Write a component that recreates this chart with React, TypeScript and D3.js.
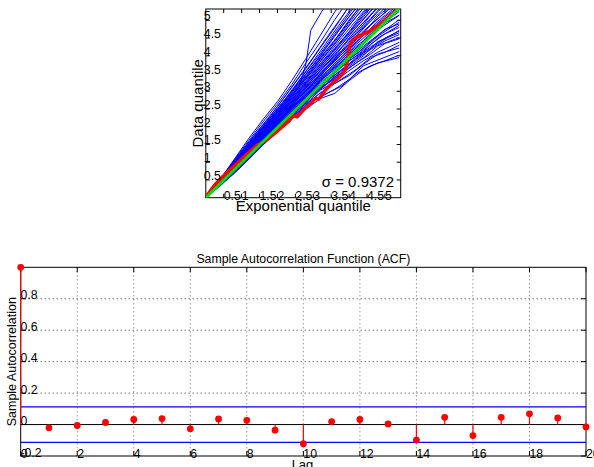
import React from 'react';
import * as d3 from 'd3';

// ---------- QQ plot data ----------
const qqKnots = [0, 0.4, 0.8, 1.2, 1.6, 2.0, 2.4, 2.8, 3.2, 3.6, 4.0, 4.4, 4.8, 5.4];
const blueLines: number[][] = [
  [0.01, 0.33, 0.70, 1.08, 1.49, 1.86, 2.22, 2.50, 2.80, 2.94, 3.30, 3.60, 3.80, 3.95],
  [0.02, 0.35, 0.69, 1.10, 1.50, 1.88, 2.26, 2.60, 2.84, 3.06, 3.33, 3.72, 3.88, 4.12],
  [0.02, 0.36, 0.73, 1.12, 1.53, 1.92, 2.29, 2.62, 2.96, 3.22, 3.44, 3.76, 4.05, 4.22],
  [0.01, 0.37, 0.74, 1.13, 1.55, 1.91, 2.31, 2.67, 3.03, 3.28, 3.58, 3.86, 4.10, 4.38],
  [0.03, 0.38, 0.76, 1.17, 1.57, 1.95, 2.34, 2.73, 3.06, 3.40, 3.66, 3.94, 4.28, 4.52],
  [0.02, 0.38, 0.77, 1.18, 1.59, 1.99, 2.39, 2.74, 3.13, 3.46, 3.76, 4.08, 4.34, 4.72],
  [0.02, 0.39, 0.79, 1.20, 1.61, 2.01, 2.41, 2.81, 3.16, 3.52, 3.86, 4.12, 4.50, 4.86],
  [0.03, 0.40, 0.80, 1.21, 1.64, 2.04, 2.44, 2.83, 3.24, 3.57, 3.93, 4.27, 4.58, 5.02],
  [0.02, 0.41, 0.81, 1.24, 1.66, 2.09, 2.47, 2.89, 3.27, 3.66, 3.98, 4.36, 4.74, 5.14],
  [0.03, 0.42, 0.83, 1.25, 1.69, 2.11, 2.53, 2.91, 3.33, 3.70, 4.10, 4.43, 4.86, 5.32],
  [0.02, 0.42, 0.85, 1.28, 1.71, 2.14, 2.55, 2.97, 3.37, 3.79, 4.16, 4.57, 4.98, 5.46],
  [0.03, 0.43, 0.86, 1.29, 1.74, 2.17, 2.61, 3.01, 3.46, 3.84, 4.26, 4.63, 5.12, 5.60],
  [0.02, 0.44, 0.87, 1.31, 1.77, 2.21, 2.64, 3.09, 3.49, 3.93, 4.33, 4.80, 5.24, 5.82],
  [0.03, 0.44, 0.89, 1.34, 1.79, 2.24, 2.70, 3.12, 3.57, 4.03, 4.44, 4.88, 5.40, 6.00],
  [0.02, 0.45, 0.91, 1.37, 1.83, 2.29, 2.74, 3.21, 3.65, 4.09, 4.57, 5.04, 5.50, 6.20],
  [0.03, 0.46, 0.93, 1.41, 1.87, 2.34, 2.81, 3.27, 3.76, 4.21, 4.68, 5.20, 5.70, 6.40],
  [0.02, 0.47, 0.95, 1.44, 1.91, 2.39, 2.87, 3.37, 3.84, 4.33, 4.86, 5.34, 5.90, 6.60],
  [0.03, 0.49, 0.98, 1.47, 1.97, 2.45, 2.96, 3.44, 3.96, 4.44, 5.01, 5.50, 6.10, 6.80],
  [0.03, 0.50, 1.01, 1.52, 2.01, 2.51, 3.01, 3.56, 4.07, 4.63, 5.18, 5.72, 6.30, 7.00],
  [0.04, 0.51, 1.04, 1.57, 2.07, 2.57, 3.11, 3.65, 4.23, 4.79, 5.40, 6.00, 6.50, 7.20],
  [0.03, 0.50, 1.07, 1.61, 2.14, 2.64, 3.19, 3.81, 4.39, 5.02, 5.60, 6.20, 6.80, 7.50],
  [0.04, 0.52, 1.09, 1.67, 2.21, 2.71, 3.30, 3.93, 4.58, 5.24, 5.80, 6.40, 7.00, 7.80],
  [0.02, 0.40, 0.82, 1.23, 1.68, 2.06, 2.50, 2.86, 3.30, 3.62, 4.05, 4.40, 4.80, 5.25],
  [0.03, 0.43, 0.84, 1.27, 1.70, 2.16, 2.58, 3.04, 3.42, 3.88, 4.22, 4.70, 5.05, 5.55],
  [0.02, 0.45, 0.88, 1.33, 1.81, 2.26, 2.68, 3.15, 3.60, 3.98, 4.50, 4.95, 5.35, 5.95],
  [0.03, 0.46, 0.92, 1.39, 1.85, 2.31, 2.78, 3.24, 3.70, 4.16, 4.62, 5.10, 5.60, 6.25],
  [0.02, 0.48, 0.97, 1.46, 1.94, 2.43, 2.92, 3.40, 3.90, 4.40, 4.92, 5.45, 6.00, 6.70],
  [0.03, 0.39, 0.78, 1.19, 1.62, 2.03, 2.43, 2.78, 3.20, 3.50, 3.90, 4.20, 4.55, 4.95],
  [0.02, 0.37, 0.75, 1.15, 1.58, 1.97, 2.37, 2.70, 3.10, 3.36, 3.70, 4.00, 4.40, 4.65],
  [0.04, 0.49, 1.00, 1.50, 2.00, 2.49, 3.00, 3.50, 4.00, 4.55, 5.10, 5.60, 6.20, 6.90],
];
const qqKnots2 = [0, 0.2, 0.6, 1.0, 1.4, 1.8, 2.2, 2.6, 3.0, 3.4, 3.8, 4.2, 4.6, 5.0, 5.4];
const blueLines2: number[][] = [
  [0.01, 0.17, 0.53, 0.90, 1.30, 1.68, 2.04, 2.42, 2.74, 2.95, 3.15, 3.50, 3.72, 3.86, 4.02],
  [0.02, 0.19, 0.56, 0.92, 1.33, 1.70, 2.10, 2.50, 2.80, 3.10, 3.35, 3.62, 3.95, 4.10, 4.30],
  [0.01, 0.20, 0.58, 0.97, 1.36, 1.76, 2.12, 2.52, 2.90, 3.22, 3.50, 3.80, 4.05, 4.35, 4.48],
  [0.02, 0.21, 0.60, 1.00, 1.40, 1.79, 2.18, 2.58, 2.96, 3.30, 3.62, 3.95, 4.25, 4.50, 4.70],
  [0.02, 0.22, 0.62, 1.02, 1.43, 1.83, 2.22, 2.64, 3.05, 3.32, 3.80, 4.05, 4.40, 4.75, 4.90],
  [0.03, 0.22, 0.63, 1.05, 1.46, 1.87, 2.28, 2.70, 3.10, 3.50, 3.85, 4.22, 4.55, 4.92, 5.15],
  [0.02, 0.23, 0.65, 1.07, 1.50, 1.92, 2.33, 2.76, 3.18, 3.58, 3.98, 4.40, 4.75, 5.10, 5.40],
  [0.03, 0.24, 0.66, 1.10, 1.53, 1.96, 2.40, 2.84, 3.26, 3.70, 4.10, 4.55, 4.98, 5.35, 5.70],
  [0.02, 0.24, 0.68, 1.13, 1.57, 2.01, 2.46, 2.92, 3.36, 3.82, 4.25, 4.72, 5.15, 5.60, 6.00],
  [0.03, 0.25, 0.70, 1.16, 1.62, 2.06, 2.53, 3.00, 3.48, 3.95, 4.42, 4.90, 5.40, 5.90, 6.30],
  [0.03, 0.26, 0.72, 1.20, 1.67, 2.12, 2.60, 3.10, 3.60, 4.10, 4.60, 5.10, 5.60, 6.10, 6.60],
  [0.03, 0.27, 0.75, 1.24, 1.72, 2.20, 2.70, 3.22, 3.75, 4.30, 4.85, 5.35, 5.90, 6.40, 7.00],
  [0.04, 0.28, 0.78, 1.30, 1.80, 2.30, 2.84, 3.40, 3.96, 4.55, 5.10, 5.70, 6.20, 6.80, 7.40],
  [0.03, 0.26, 0.74, 1.21, 1.70, 2.16, 2.63, 3.15, 3.66, 4.20, 4.70, 5.25, 5.80, 6.30, 6.80],
  [0.02, 0.23, 0.64, 1.06, 1.48, 1.90, 2.30, 2.73, 3.14, 3.55, 3.92, 4.32, 4.68, 5.02, 5.30],
  [0.02, 0.21, 0.61, 1.01, 1.41, 1.81, 2.20, 2.61, 3.00, 3.36, 3.70, 4.00, 4.32, 4.62, 4.80],
  [0.03, 0.25, 0.69, 1.14, 1.59, 2.03, 2.49, 2.95, 3.42, 3.88, 4.33, 4.80, 5.25, 5.70, 6.10],
  [0.02, 0.24, 0.67, 1.11, 1.55, 1.99, 2.43, 2.88, 3.30, 3.74, 4.16, 4.62, 5.05, 5.50, 5.85],
  [0.03, 0.27, 0.76, 1.27, 1.76, 2.25, 2.76, 3.30, 3.85, 4.42, 4.98, 5.50, 6.00, 6.60, 7.20],
  [0.02, 0.20, 0.59, 0.98, 1.38, 1.78, 2.16, 2.55, 2.93, 3.25, 3.58, 3.90, 4.18, 4.42, 4.60],
  [0.02, 0.22, 0.64, 1.08, 1.49, 1.93, 2.36, 2.80, 3.22, 3.66, 4.05, 4.48, 4.86, 5.22, 5.55],
  [0.03, 0.24, 0.69, 1.15, 1.62, 2.09, 2.57, 3.06, 3.55, 4.02, 4.52, 5.00, 5.50, 6.00, 6.50],
];
const outlierX = [0, 0.4, 0.8, 1.2, 1.6, 2.0, 2.4, 2.62, 2.8, 2.93, 3.26, 3.6];
const outlierY = [0.03, 0.47, 0.94, 1.42, 1.9, 2.4, 2.9, 3.13, 3.8, 4.72, 5.29, 5.6];
const redX = [0, 0.25, 0.5, 0.8, 1.1, 1.4, 1.7, 2.0, 2.3, 2.45, 2.55, 2.75, 2.95, 3.05, 3.15, 3.35, 3.55, 3.75, 3.88, 3.95, 4.02, 4.1, 4.25, 4.55, 4.8, 5.05, 5.44];
const redY = [0.02, 0.36, 0.62, 0.9, 1.18, 1.45, 1.64, 1.88, 2.14, 2.32, 2.28, 2.5, 2.68, 2.8, 2.78, 3.05, 3.25, 3.42, 3.58, 3.85, 4.3, 4.45, 4.55, 4.68, 4.85, 5.05, 5.38];
const refX = [0, 5.44];
const refY = [0, 5.38];
const qqTicks = [0.5, 1, 1.5, 2, 2.5, 3, 3.5, 4, 4.5, 5];
const qqTickLabels = ['0.5', '1', '1.5', '2', '2.5', '3', '3.5', '4', '4.5', '5'];
const sigmaLabel = 'σ = 0.9372';

// ---------- ACF data ----------
const lags = [0, 1, 2, 3, 4, 5, 6, 7, 8, 9, 10, 11, 12, 13, 14, 15, 16, 17, 18, 19, 20];
const acf = [1, -0.021, -0.006, 0.013, 0.032, 0.038, -0.027, 0.036, 0.027, -0.036, -0.122, 0.019, 0.032, 0.004, -0.099, 0.046, -0.07, 0.046, 0.068, 0.042, -0.015];
const bounds = [0.113, -0.113];
const acfXTicks = [0, 2, 4, 6, 8, 10, 12, 14, 16, 18, 20];
const acfXTickLabels = ['0', '2', '4', '6', '8', '10', '12', '14', '16', '18', '20'];
const acfYTicks = [-0.2, 0, 0.2, 0.4, 0.6, 0.8];
const acfYTickLabels = ['-0.2', '0', '0.2', '0.4', '0.6', '0.8'];
const acfGridY = [0.2, 0.4, 0.6, 0.8];
const acfGridX = [2, 4, 6, 8, 10, 12, 14, 16, 18];

const FONT = 'Liberation Sans, Arial, Helvetica, sans-serif';

export default function App() {
  // top QQ plot scales
  const x1 = d3.scaleLinear().domain([0, 5.44]).range([205.8, 400.7]);
  const y1 = d3.scaleLinear().domain([0, 5.32]).range([197.7, 9]);
  const [l1, r1] = x1.range();
  const [b1, t1] = y1.range();
  const line1 = d3.line<[number, number]>().x((d) => x1(d[0])).y((d) => y1(d[1]));
  const zip = (xs: number[], ys: number[]) => xs.map((x, i) => [x, ys[i]] as [number, number]);

  // bottom ACF scales
  const x2 = d3.scaleLinear().domain([0, 20]).range([20.7, 586]);
  const y2 = d3.scaleLinear().domain([-0.2, 1]).range([456, 267.3]);
  const [l2, r2] = x2.range();
  const [b2, t2] = y2.range();
  const tk = 4;

  return (
    <svg width={594} height={467} style={{ position: 'absolute', left: 0, top: 0, background: '#fff' }} fontFamily={FONT}>
      <defs>
        <clipPath id="qqclip">
          <rect x={l1} y={t1} width={r1 - l1} height={b1 - t1} />
        </clipPath>
      </defs>
      {/* ---------- QQ plot ---------- */}
      <rect x={l1} y={t1} width={r1 - l1} height={b1 - t1} fill="#fff" stroke="#000" strokeWidth={1} />
      {qqTicks.map((v, i) => (
        <g key={'qt' + i} stroke="#000" strokeWidth={1}>
          <line x1={x1(v)} x2={x1(v)} y1={b1} y2={b1 - tk} />
          <line x1={x1(v)} x2={x1(v)} y1={t1} y2={t1 + tk} />
          <line x1={l1} x2={l1 + tk} y1={y1(v)} y2={y1(v)} />
          <line x1={r1} x2={r1 - tk} y1={y1(v)} y2={y1(v)} />
        </g>
      ))}
      <g clipPath="url(#qqclip)" fill="none">
        {blueLines.map((ys, i) => (
          <path key={'b' + i} d={line1(zip(qqKnots, ys)) || ''} stroke="#0000ff" strokeWidth={1} />
        ))}
        {blueLines2.map((ys, i) => (
          <path key={'c' + i} d={line1(zip(qqKnots2, ys)) || ''} stroke="#0000ff" strokeWidth={1} />
        ))}
        <path d={line1(zip(outlierX, outlierY)) || ''} stroke="#0000ff" strokeWidth={1} />
        <path d={line1(zip(redX, redY)) || ''} stroke="#ff0000" strokeWidth={3.5} strokeLinejoin="round" />
        <path d={line1(zip(refX, refY)) || ''} stroke="#00dd00" strokeWidth={3} />
      </g>
      {qqTicks.map((v, i) => (
        <text key={'qxl' + i} x={x1(v)} y={199.5} fontSize={12.3} textAnchor="start" fill="#000">
          {qqTickLabels[i]}
        </text>
      ))}
      {qqTicks.map((v, i) => (
        <text key={'qyl' + i} x={l1 - 2} y={y1(v)} fontSize={12.3} textAnchor="start" fill="#000">
          {qqTickLabels[i]}
        </text>
      ))}
      <text x={394} y={186.5} fontSize={15} textAnchor="end" fill="#000">{sigmaLabel}</text>
      <text x={303.3} y={211} fontSize={15} textAnchor="middle" fill="#000">Exponential quantile</text>
      <text transform="translate(202.5,103.3) rotate(-90)" fontSize={15} textAnchor="middle" fill="#000">Data quantile</text>

      {/* ---------- ACF plot ---------- */}
      {acfGridX.map((v, i) => (
        <line key={'gx' + i} x1={x2(v)} x2={x2(v)} y1={t2} y2={b2} stroke="#666" strokeWidth={1} strokeDasharray="1,3" />
      ))}
      {acfGridY.map((v, i) => (
        <line key={'gy' + i} x1={l2} x2={r2} y1={y2(v)} y2={y2(v)} stroke="#333" strokeWidth={1} strokeDasharray="1,3" />
      ))}
      <rect x={l2} y={t2} width={r2 - l2} height={b2 - t2} fill="none" stroke="#000" strokeWidth={1} />
      {acfXTicks.map((v, i) => (
        <g key={'at' + i} stroke="#000" strokeWidth={1}>
          <line x1={x2(v)} x2={x2(v)} y1={b2} y2={b2 - 5} />
          <line x1={x2(v)} x2={x2(v)} y1={t2} y2={t2 + 5} />
        </g>
      ))}
      {acfYTicks.map((v, i) => (
        <g key={'ayt' + i} stroke="#000" strokeWidth={1}>
          <line x1={l2} x2={l2 + 5} y1={y2(v)} y2={y2(v)} />
          <line x1={r2} x2={r2 - 5} y1={y2(v)} y2={y2(v)} />
        </g>
      ))}
      {bounds.map((v, i) => (
        <line key={'bd' + i} x1={l2} x2={r2} y1={y2(v)} y2={y2(v)} stroke="#0000ff" strokeWidth={1.3} />
      ))}
      <line x1={l2} x2={r2} y1={y2(0)} y2={y2(0)} stroke="#000" strokeWidth={1} />
      {lags.map((lag, i) => (
        <line key={'st' + i} x1={x2(lag)} x2={x2(lag)} y1={y2(0)} y2={y2(acf[i])} stroke="#ff0000" strokeWidth={1.2} />
      ))}
      {lags.map((lag, i) => (
        <circle key={'mk' + i} cx={x2(lag)} cy={y2(acf[i])} r={3.4} fill="#ff0000" />
      ))}
      {acfXTicks.map((v, i) => (
        <text key={'axl' + i} x={x2(v)} y={458.3} fontSize={12.3} textAnchor="start" fill="#000">
          {acfXTickLabels[i]}
        </text>
      ))}
      {acfYTicks.map((v, i) => (
        <text key={'ayl' + i} x={l2 - 0.3} y={y2(v) + 0.5} fontSize={12.3} textAnchor="start" fill="#000">
          {acfYTickLabels[i]}
        </text>
      ))}
      <text x={303.4} y={263} fontSize={12.3} textAnchor="middle" fill="#000">Sample Autocorrelation Function (ACF)</text>
      <text x={302.5} y={468.5} fontSize={13} textAnchor="middle" fill="#000">Lag</text>
      <text transform="translate(16.3,361.7) rotate(-90)" fontSize={12.5} textAnchor="middle" fill="#000">Sample Autocorrelation</text>
    </svg>
  );
}
